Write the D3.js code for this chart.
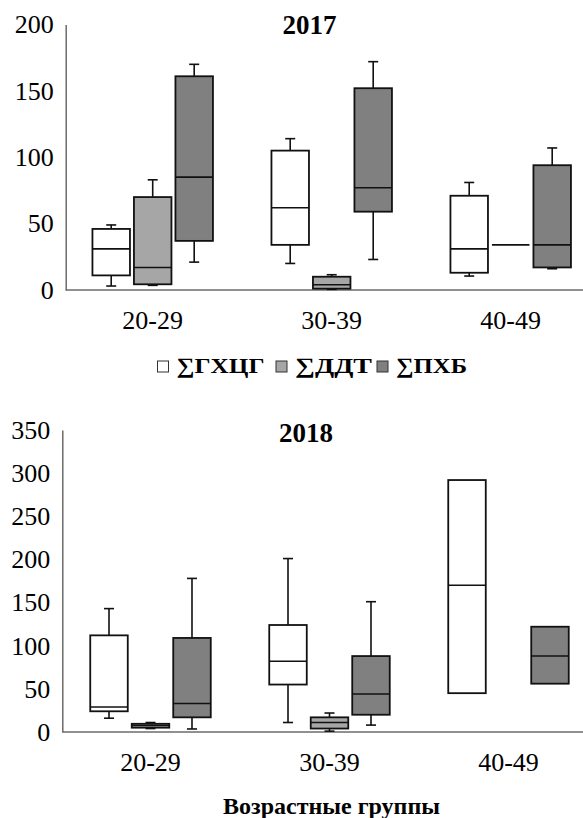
<!DOCTYPE html>
<html>
<head>
<meta charset="utf-8">
<script src="https://cdn.jsdelivr.net/npm/d3@7"></script>
<style>
  html, body { margin: 0; padding: 0; background: #fff; }
  svg { display: block; }
</style>
</head>
<body>
<svg id="chart" width="583" height="818"></svg>
<script>
// Age groups and the three summed contaminant series
const groups = ["20-29", "30-39", "40-49"];
const series = ["∑ГХЦГ", "∑ДДТ", "∑ПХБ"];
const seriesFill = ["#ffffff", "#a6a6a6", "#808080"];

// Box statistics per age group: [min, q1, median, q3, max]
const hchg2017 = [[3, 11, 31, 46, 49], [20, 34, 62, 105, 114], [10.5, 13, 31, 71, 81]];
const ddt2017  = [[3.5, 4.3, 17, 70, 83], [0.5, 1, 4, 10, 11.5], [34, 34, 34, 34, 34]];
const pcb2017  = [[21, 37, 85, 161, 170], [23, 59, 77, 152, 172], [16, 17, 34, 94, 107]];

const hchg2018 = [[16, 24, 29, 112, 143], [11, 55, 82, 124, 201], [45, 45, 170, 292, 292]];
const ddt2018  = [[4, 5, 7.5, 9.5, 11], [1, 4, 11, 17, 22], null];
const pcb2018  = [[3.5, 17, 33, 109, 178], [8, 20, 44, 88, 151], [56, 56, 88, 122, 122]];

const yTicks2017 = [0, 50, 100, 150, 200];
const yTicks2018 = [0, 50, 100, 150, 200, 250, 300, 350];

const FONT = "'Liberation Serif', 'Times New Roman', serif";
const svg = d3.select("#chart");

function panel(cfg) {
  const g = svg.append("g");
  const y = d3.scaleLinear().domain([0, cfg.yMax]).range([cfg.y0, cfg.y1]);
  const x = d3.scaleBand().domain(groups).range(cfg.xRange).paddingInner(0).paddingOuter(0);
  const xs = d3.scaleBand().domain(series).range([-60.25, 60.25]).paddingInner(0.096);
  const bw = xs.bandwidth();
  const capW = 10;

  // y axis
  const ya = g.append("g")
    .attr("transform", `translate(${cfg.axisX},0)`)
    .call(d3.axisLeft(y).tickValues(cfg.ticks).tickSize(0).tickPadding(12).tickFormat(d3.format("d")));
  ya.select(".domain").attr("stroke", "#6b6b6b").attr("stroke-width", 1.5);
  ya.selectAll("text").attr("font-size", 26).style("font-family", FONT).attr("fill", "#000");

  // x axis
  const xa = g.append("g")
    .attr("transform", `translate(0,${cfg.y0})`)
    .call(d3.axisBottom(x).tickSize(0).tickPadding(21));
  xa.select(".domain").attr("stroke", "#6b6b6b").attr("stroke-width", 1.5)
    .attr("d", `M${cfg.axisX},0H${cfg.xRange[1]}`);
  xa.selectAll("text").attr("font-size", 26).style("font-family", FONT).attr("fill", "#000");

  // boxes
  cfg.data.forEach((arr, si) => {
    arr.forEach((s, gi) => {
      if (!s) return;
      const cx = x(groups[gi]) + x.bandwidth() / 2 + xs(series[si]) + bw / 2;
      const [mn, q1, md, q3, mx] = s;
      const bg = g.append("g");
      const line = (x1, y1, x2, y2) => bg.append("line")
        .attr("x1", x1).attr("y1", y1).attr("x2", x2).attr("y2", y2)
        .attr("stroke", "#111").attr("stroke-width", 1.6);
      if (mx > q3) { line(cx, y(q3), cx, y(mx)); line(cx - capW / 2, y(mx), cx + capW / 2, y(mx)); }
      if (mn < q1) { line(cx, y(q1), cx, y(mn)); line(cx - capW / 2, y(mn), cx + capW / 2, y(mn)); }
      bg.append("rect")
        .attr("x", cx - bw / 2).attr("y", y(q3))
        .attr("width", bw).attr("height", Math.max(0, y(q1) - y(q3)))
        .attr("fill", seriesFill[si]).attr("stroke", "#111").attr("stroke-width", 1.8);
      line(cx - bw / 2, y(md), cx + bw / 2, y(md));
    });
  });

  // title
  g.append("text")
    .attr("x", cfg.titleX).attr("y", cfg.titleY)
    .attr("text-anchor", "middle").attr("font-weight", "bold").attr("font-size", 27)
    .style("font-family", FONT)
    .text(cfg.title);
}

panel({
  title: "2017", titleX: 309.5, titleY: 33.5,
  yMax: 200, y0: 290, y1: 24.5, ticks: yTicks2017,
  axisX: 65.7, xRange: [63.2, 600.2],
  data: [hchg2017, ddt2017, pcb2017]
});

panel({
  title: "2018", titleX: 306, titleY: 441.5,
  yMax: 350, y0: 732, y1: 430, ticks: yTicks2018,
  axisX: 62.3, xRange: [61, 598],
  data: [hchg2018, ddt2018, pcb2018]
});

// legend: swatch, then label stretched to its slot
const legend = svg.append("g").attr("transform", "translate(0,373)");
const legendX = [157.5, 276, 377];
const legendW = [88, 77, 71];
series.forEach((name, i) => {
  legend.append("rect")
    .attr("x", legendX[i]).attr("y", -12).attr("width", 11).attr("height", 11)
    .attr("fill", seriesFill[i]).attr("stroke", "#333").attr("stroke-width", 1);
  legend.append("text")
    .attr("x", legendX[i] + 19).attr("y", 0)
    .attr("font-weight", "bold").attr("font-size", 22)
    .attr("textLength", legendW[i]).attr("lengthAdjust", "spacingAndGlyphs")
    .style("font-family", FONT)
    .text(name);
});

// x axis title
svg.append("text")
  .attr("x", 331.5).attr("y", 814)
  .attr("text-anchor", "middle").attr("font-weight", "bold").attr("font-size", 24)
  .style("font-family", FONT)
  .text("Возрастные группы");
</script>
</body>
</html>
